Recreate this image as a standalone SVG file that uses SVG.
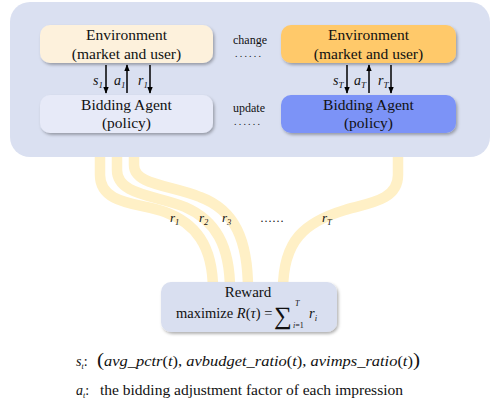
<svg xmlns="http://www.w3.org/2000/svg" width="498" height="405" viewBox="0 0 498 405" font-family="'Liberation Serif', 'Times New Roman', serif">
<defs>
<filter id="sh" x="-10%" y="-10%" width="125%" height="140%">
<feDropShadow dx="1.5" dy="2" stdDeviation="1.5" flood-color="#000" flood-opacity="0.3"/>
</filter>
<marker id="ah" viewBox="0 0 10 10" refX="9" refY="5" markerWidth="7" markerHeight="7" markerUnits="userSpaceOnUse" orient="auto">
<path d="M0,1 L10,5 L0,9 z" fill="#000"/>
</marker>
</defs>
<style>
text{font-family:'Liberation Serif','Times New Roman',serif;fill:#111}
.box{font-size:15.5px}
.mid{font-size:12px}
.dots{font-size:10px;letter-spacing:2.2px}
.it{font-style:italic}
.band{fill:none;stroke:#FFF0C6;stroke-width:10.5}
.arr{stroke:#000;stroke-width:1.5;fill:none;marker-end:url(#ah)}
</style>
<g id="connectors">
<path class="band" d="M100,140 L100,175 C100,205 140,203 165,212 C195,223 213,245 213,290"/>
<path class="band" d="M117,140 L117,170 C117,195 155,195 185,207 C215,220 230,245 230,290"/>
<path class="band" d="M134,140 L134,165 C134,185 170,185 200,197 C235,210 248,240 248,290"/>
<path class="band" d="M398,140 L398,175 C398,200 370,203 345,210 C305,222 283,240 283,290"/>
</g>
<g id="panel">
<rect x="10" y="2" width="480" height="155" rx="20" fill="#DAE0F1"/>
</g>
<g id="env1">
<rect x="40" y="25" width="173" height="38" rx="10" fill="#FDF1DC" filter="url(#sh)"/>
<text class="box" x="126.5" y="40" text-anchor="middle">Environment</text>
<text class="box" x="126.5" y="59" text-anchor="middle">(market and user)</text>
</g>
<g id="agent1">
<rect x="40" y="95" width="173" height="38" rx="10" fill="#E7EAF8" filter="url(#sh)"/>
<text class="box" x="126.5" y="110" text-anchor="middle">Bidding Agent</text>
<text class="box" x="126.5" y="128" text-anchor="middle">(policy)</text>
</g>
<g id="envT">
<rect x="281" y="25" width="175" height="38" rx="10" fill="#FFC96A" filter="url(#sh)"/>
<text class="box" x="368.5" y="40" text-anchor="middle">Environment</text>
<text class="box" x="368.5" y="59" text-anchor="middle">(market and user)</text>
</g>
<g id="agentT">
<rect x="281" y="95" width="175" height="38" rx="10" fill="#7B93F7" filter="url(#sh)"/>
<text class="box" x="368.5" y="110" text-anchor="middle">Bidding Agent</text>
<text class="box" x="368.5" y="128" text-anchor="middle">(policy)</text>
</g>
<g id="arrows">
<line class="arr" x1="106" y1="65" x2="106" y2="93"/>
<line class="arr" x1="127" y1="93" x2="127" y2="65"/>
<line class="arr" x1="150" y1="65" x2="150" y2="93"/>
<line class="arr" x1="347" y1="65" x2="347" y2="93"/>
<line class="arr" x1="369" y1="93" x2="369" y2="65"/>
<line class="arr" x1="391" y1="65" x2="391" y2="93"/>
<text class="it" font-size="14" x="93" y="85">s<tspan font-size="9" dy="3">1</tspan></text>
<text class="it" font-size="14" x="114" y="85">a<tspan font-size="9" dy="3">1</tspan></text>
<text class="it" font-size="14" x="138" y="85">r<tspan font-size="9" dy="3">1</tspan></text>
<text class="it" font-size="14" x="333" y="85">s<tspan font-size="9" dy="3">T</tspan></text>
<text class="it" font-size="14" x="354" y="85">a<tspan font-size="9" dy="3">T</tspan></text>
<text class="it" font-size="14" x="378" y="85">r<tspan font-size="9" dy="3">T</tspan></text>
</g>
<g id="middle">
<text class="mid" x="250" y="44" text-anchor="middle">change</text>
<text class="dots" x="235" y="57">......</text>
<text class="mid" x="249" y="112" text-anchor="middle">update</text>
<text class="dots" x="234" y="125">......</text>
</g>
<g id="rlabels">
<text class="it" font-size="13" x="170" y="222">r<tspan font-size="8.5" dy="3">1</tspan></text>
<text class="it" font-size="13" x="199" y="222">r<tspan font-size="8.5" dy="3">2</tspan></text>
<text class="it" font-size="13" x="222" y="222">r<tspan font-size="8.5" dy="3">3</tspan></text>
<text font-size="12" x="260" y="222">……</text>
<text class="it" font-size="13" x="322" y="222">r<tspan font-size="8.5" dy="3">T</tspan></text>
</g>
<g id="reward">
<rect x="161" y="282" width="176" height="50" rx="10" fill="#D9DFF0" filter="url(#sh)"/>
<text font-size="15" x="248" y="297" text-anchor="middle">Reward</text>
<text font-size="14.5" x="176" y="318">maximize <tspan class="it">R</tspan>(<tspan class="it">τ</tspan>) = </text>
<text font-size="25" x="274" y="324">∑</text>
<text class="it" font-size="8" x="295" y="306">T</text>
<text font-size="8" x="293" y="328"><tspan class="it">i</tspan>=1</text>
<text class="it" font-size="14.5" x="309" y="318">r<tspan font-size="8.5" dy="3">i</tspan></text>
</g>
<g id="legend">
<text font-size="14" x="76" y="366"><tspan class="it">s</tspan><tspan class="it" font-size="8" dy="3">t</tspan><tspan dy="-3">:</tspan></text>
<text font-size="14" x="97" y="366" textLength="323" lengthAdjust="spacingAndGlyphs"><tspan font-size="18">(</tspan><tspan class="it">avg_pctr</tspan>(<tspan class="it">t</tspan>), <tspan class="it">avbudget_ratio</tspan>(<tspan class="it">t</tspan>), <tspan class="it">avimps_ratio</tspan>(<tspan class="it">t</tspan>)<tspan font-size="18">)</tspan></text>
<text font-size="14" x="76" y="395"><tspan class="it">a</tspan><tspan class="it" font-size="8" dy="3">t</tspan><tspan dy="-3">:</tspan></text>
<text font-size="14" x="100" y="395" textLength="303" lengthAdjust="spacingAndGlyphs">the bidding adjustment factor of each impression</text>
</g>
</svg>
